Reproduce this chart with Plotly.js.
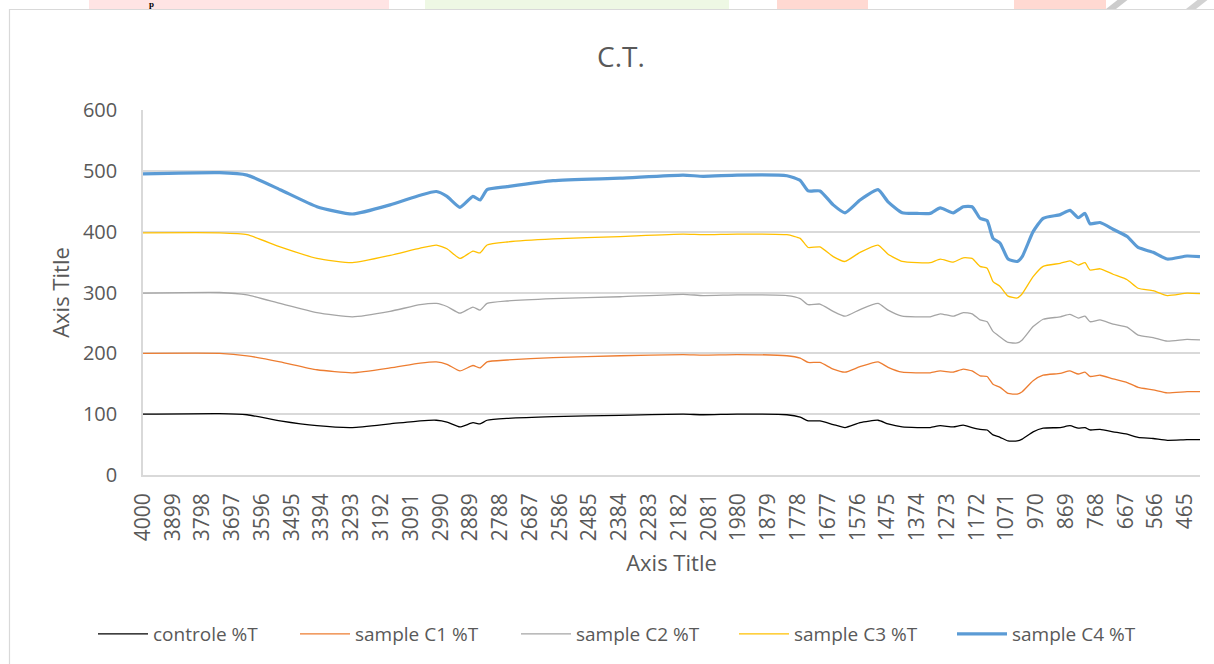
<!DOCTYPE html>
<html>
<head>
<meta charset="utf-8">
<script src="https://cdn.plot.ly/plotly-3.0.1.min.js"></script>
<style>
  html, body { margin: 0; padding: 0; background: #ffffff; }
  #chart { width: 1214px; height: 664px; }
</style>
</head>
<body>
<div id="chart"></div>
<script>
const wavenumbers = [4000, 3740, 3647, 3535, 3410, 3290, 3162, 3060, 3005, 2969, 2925, 2881, 2857, 2833, 2765, 2609, 2382, 2168, 2100, 1985, 1816, 1771, 1744, 1704, 1659, 1619, 1568, 1507, 1473, 1425, 1374, 1330, 1296, 1252, 1218, 1188, 1161, 1137, 1117, 1093, 1066, 1035, 1018, 981, 947, 889, 856, 828, 805, 788, 754, 710, 662, 625, 574, 526, 459, 415];

const controleT = [100, 101, 99, 89, 81, 78, 84, 89, 90, 87, 79, 86, 84, 90, 93, 96, 98, 100, 99, 100, 99, 95, 89, 89, 83, 78, 86, 90, 84, 79, 78, 78, 81, 79, 82, 78, 75, 74, 66, 62, 56, 56, 59, 71, 77, 78, 81, 77, 78, 74, 75, 71, 67, 62, 60, 57, 58, 58];
const sampleC1T = [200, 200, 196, 186, 173, 168, 176, 184, 186, 182, 171, 180, 176, 186, 189, 193, 196, 198, 197, 198, 196, 192, 185, 185, 174, 169, 178, 186, 177, 169, 168, 168, 171, 169, 174, 171, 163, 162, 149, 144, 134, 133, 137, 155, 164, 167, 171, 166, 169, 162, 164, 158, 152, 144, 140, 135, 137, 137];
const sampleC2T = [299, 300, 296, 282, 267, 260, 269, 280, 282, 277, 266, 276, 271, 282, 286, 290, 293, 297, 295, 296, 295, 290, 280, 281, 269, 261, 272, 282, 271, 261, 260, 260, 265, 261, 267, 265, 255, 252, 236, 227, 218, 217, 222, 244, 256, 260, 264, 258, 261, 252, 255, 248, 243, 230, 226, 220, 223, 222];
const sampleC3T = [398, 398, 395, 375, 356, 349, 361, 373, 378, 372, 356, 368, 365, 378, 383, 388, 392, 396, 395, 396, 395, 389, 374, 375, 359, 351, 366, 378, 363, 351, 349, 349, 355, 350, 357, 356, 343, 340, 318, 310, 294, 291, 298, 326, 343, 348, 352, 345, 349, 337, 339, 330, 321, 307, 303, 295, 299, 298];
const sampleC4T = [495, 497, 493, 469, 441, 429, 444, 460, 466, 458, 440, 458, 452, 469, 474, 484, 488, 493, 491, 493, 492, 484, 467, 467, 444, 431, 452, 469, 449, 431, 430, 430, 439, 431, 441, 441, 422, 418, 389, 381, 355, 351, 359, 400, 422, 428, 435, 423, 430, 413, 415, 404, 392, 374, 366, 355, 360, 359];

const seriesNames = ["controle %T", "sample C1 %T", "sample C2 %T", "sample C3 %T", "sample C4 %T"];
const seriesValues = [controleT, sampleC1T, sampleC2T, sampleC3T, sampleC4T];
const seriesColors = ["#000000", "#ED7D31", "#A5A5A5", "#FFC000", "#5B9BD5"];
const seriesWidths = [1.3, 1.3, 1.3, 1.3, 3.2];

// Category-style tick labels every 101 cm-1
const tickLabels = [];
for (let v = 4000; v >= 465; v -= 101) tickLabels.push(v);

const FONT = "Open Sans, Lato, sans-serif";
const TXT = "#595959";

const legendIds = ["legend", "legend2", "legend3", "legend4", "legend5"];
const legendLineStarts = [98, 300, 521, 739, 957];

const traces = seriesNames.map((name, i) => ({
  type: "scatter",
  mode: "lines",
  name: name,
  legend: legendIds[i],
  x: wavenumbers,
  y: seriesValues[i],
  line: { color: seriesColors[i], width: seriesWidths[i], shape: "spline", smoothing: 0.5 },
  hoverinfo: "x+y+name"
}));

// plot area in pixels
const L = 143, R = 1200, T = 110, B = 475;
const W = R - L, H = B - T;
const px = x => (x - L) / W;
const py = y => (B - y) / H;

const stripShapes = [
  { x0: 89, x1: 389, color: "#FFE4E4" },
  { x0: 425, x1: 729, color: "#EEF8E4" },
  { x0: 777, x1: 868, color: "#FFD9D2" },
  { x0: 1014, x1: 1106, color: "#FFD9D2" }
].map(s => ({
  type: "rect", xref: "paper", yref: "paper", layer: "below",
  x0: px(s.x0), x1: px(s.x1), y0: py(9), y1: py(-2),
  fillcolor: s.color, line: { width: 0 }
}));

// small slanted grey marks in the top strip
function slant(xa, color) {
  const pts = [[xa, 9], [xa + 10, 9], [xa + 24, -2], [xa + 14, -2]];
  return {
    type: "path", xref: "paper", yref: "paper", layer: "below",
    path: "M " + pts.map(p => px(p[0]) + "," + py(p[1])).join(" L ") + " Z",
    fillcolor: color, line: { width: 0 }
  };
}
const slantShapes = [slant(1106, "#CCCCCC"), slant(1186, "#D2D2D2")];

const layout = {
  width: 1214,
  height: 664,
  paper_bgcolor: "#ffffff",
  plot_bgcolor: "#ffffff",
  margin: { l: L, r: 1214 - R, t: T, b: 664 - B, pad: 0, autoexpand: false },
  font: { family: FONT, color: TXT, size: 18 },
  title: {
    text: "C.T.",
    font: { family: FONT, size: 28, color: TXT },
    x: 621 / 1214, xref: "container", xanchor: "center",
    y: 1 - 57 / 664, yref: "container", yanchor: "middle"
  },
  xaxis: {
    type: "linear",
    range: [4000, 415],
    automargin: false,
    tickmode: "array",
    tickvals: tickLabels,
    ticktext: tickLabels.map(String),
    tickangle: -90,
    tickfont: { family: FONT, size: 21, color: TXT },
    ticks: "",
    ticklabelstandoff: 8,
    showgrid: false,
    zeroline: false,
    showline: true,
    linecolor: "#D9D9D9",
    linewidth: 1.5,
    title: { text: "Axis Title", font: { family: FONT, size: 22, color: TXT }, standoff: 15 }
  },
  yaxis: {
    range: [0, 600],
    dtick: 100,
    tick0: 0,
    automargin: false,
    tickfont: { family: FONT, size: 20, color: TXT },
    ticks: "",
    ticklabelstandoff: 20,
    showgrid: true,
    gridcolor: "#D9D9D9",
    gridwidth: 1.5,
    zeroline: false,
    showline: true,
    linecolor: "#D9D9D9",
    linewidth: 1.5,
    title: { text: "Axis Title", font: { family: FONT, size: 22, color: TXT }, standoff: 7 }
  },
  shapes: stripShapes.concat(slantShapes, [
    {
      type: "rect", xref: "paper", yref: "paper", layer: "below",
      x0: px(9.5), x1: px(1216), y0: py(670), y1: py(9.5),
      fillcolor: "rgba(0,0,0,0)", line: { color: "#D9D9D9", width: 1.2 }
    }
  ]),
  annotations: [
    {
      text: "<b>p</b>", xref: "paper", yref: "paper",
      x: px(151), y: py(4), xanchor: "center", yanchor: "middle",
      showarrow: false, font: { family: "Liberation Serif, serif", size: 9, color: "#000000" }
    }
  ],
  showlegend: true
};

legendIds.forEach((id, i) => {
  layout[id] = {
    orientation: "h",
    x: px(legendLineStarts[i] - 5), xanchor: "left",
    y: py(634), yanchor: "middle",
    font: { family: FONT, size: 19, color: TXT },
    itemwidth: 50,
    bgcolor: "rgba(0,0,0,0)"
  };
});

Plotly.newPlot("chart", traces, layout, { displayModeBar: false, staticPlot: false });
</script>
</body>
</html>
